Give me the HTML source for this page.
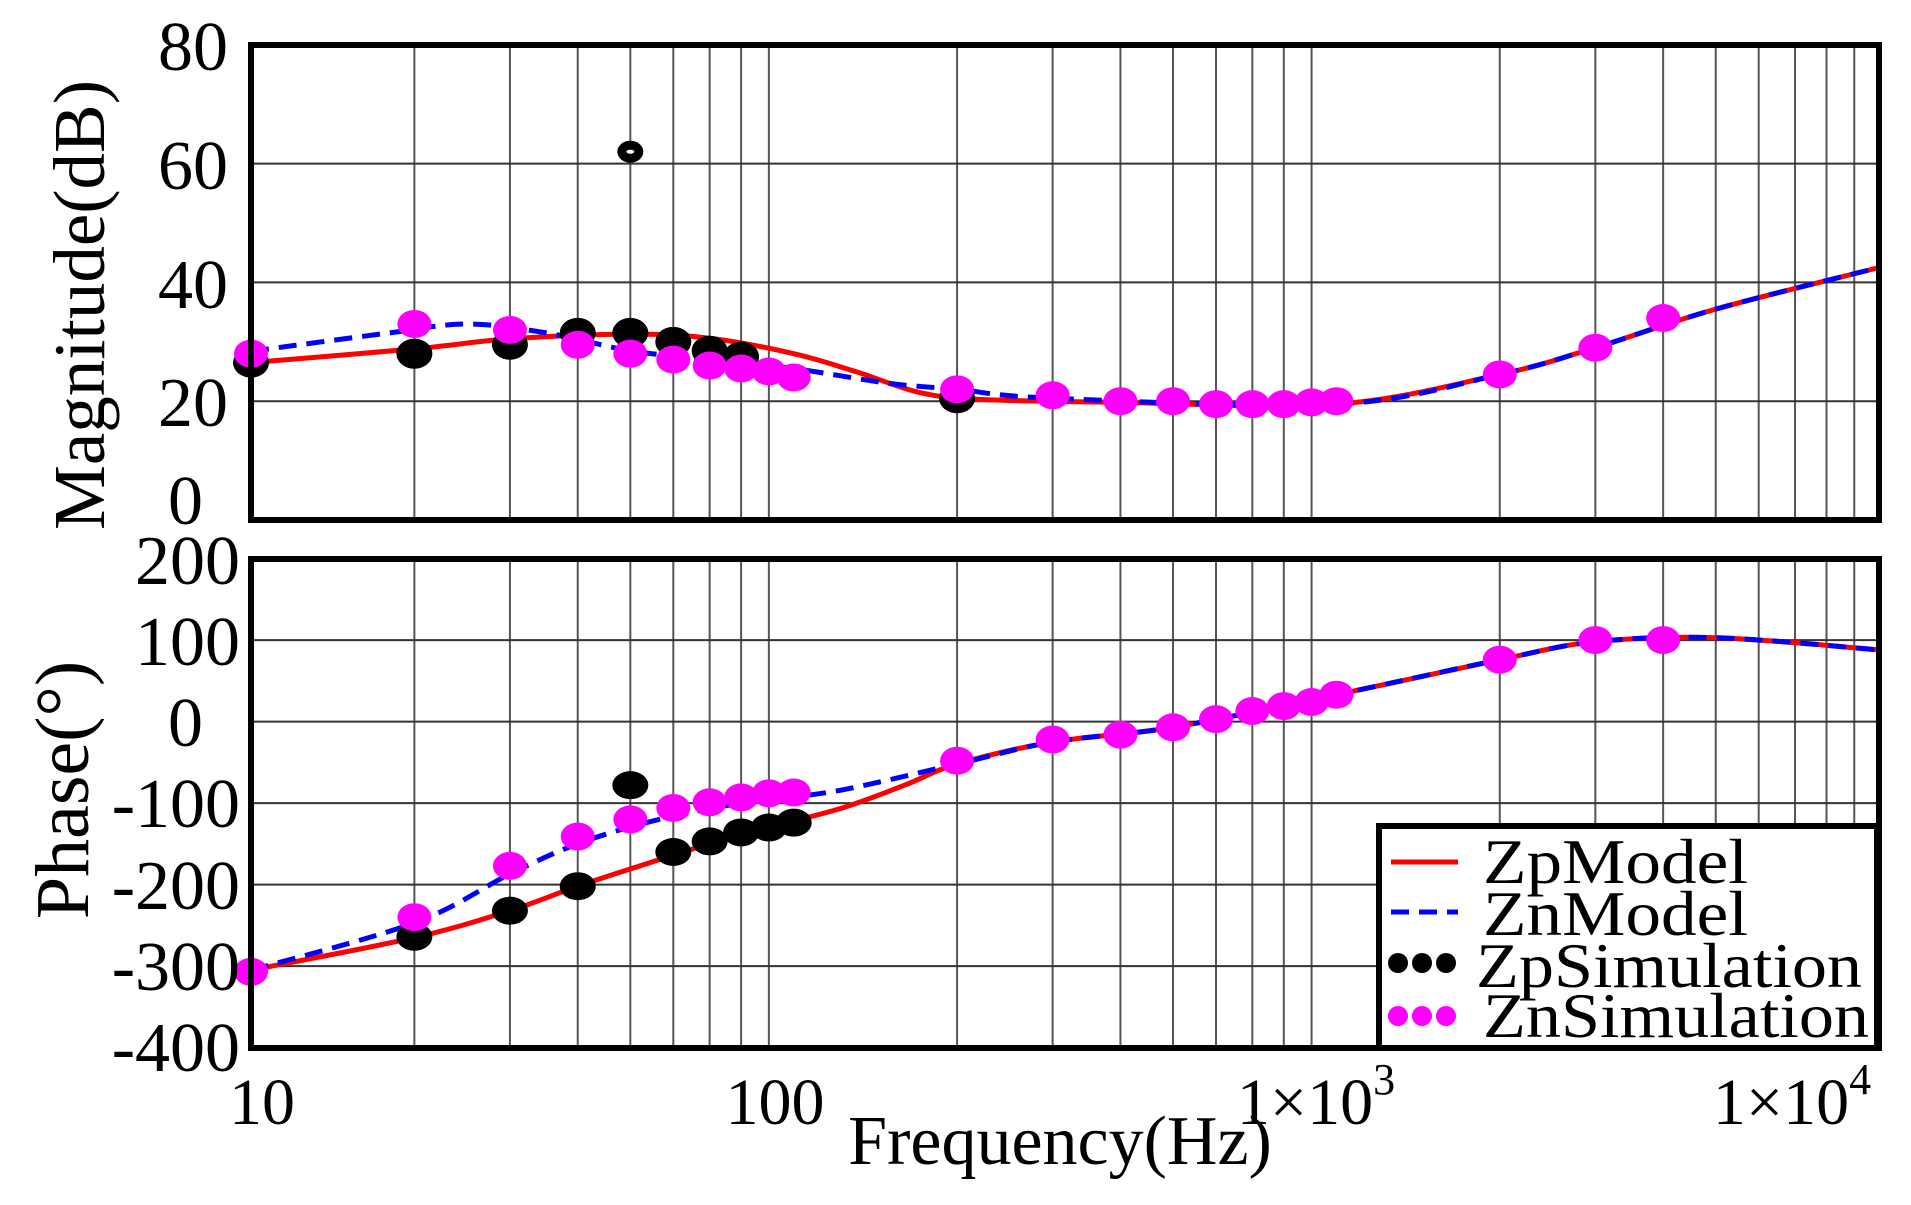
<!DOCTYPE html>
<html><head><meta charset="utf-8"><style>
html,body{margin:0;padding:0;background:#fff;}
svg{display:block;font-family:"Liberation Serif",serif;}
</style></head><body>
<svg id="s" width="1911" height="1205" viewBox="0 0 1911 1205" xmlns="http://www.w3.org/2000/svg">
<g id="grid"></g>
<g id="data"></g>
<rect x="251" y="45" width="1628" height="475" fill="none" stroke="#000" stroke-width="6"/>
<rect x="251" y="559" width="1628" height="489" fill="none" stroke="#000" stroke-width="6"/>
<g font-size="70" text-anchor="end" fill="#000">
<text x="228" y="70">80</text>
<text x="228" y="189">60</text>
<text x="228" y="308">40</text>
<text x="228" y="426">20</text>
<text x="203" y="524">0</text>
<text x="240" y="584">200</text>
<text x="240" y="665">100</text>
<text x="203" y="746">0</text>
<text x="240" y="827">-100</text>
<text x="240" y="909">-200</text>
<text x="240" y="990">-300</text>
<text x="240" y="1071">-400</text>
</g>
<g font-size="66" fill="#000" text-anchor="middle">
<text x="262" y="1124">10</text>
<text x="775" y="1124">100</text>
<text x="1316" y="1124">1×10<tspan font-size="44" dy="-30">3</tspan></text>
<text x="1792" y="1124">1×10<tspan font-size="44" dy="-30">4</tspan></text>
</g>
<text x="1060" y="1164" font-size="70" text-anchor="middle">Frequency(Hz)</text>
<text transform="translate(104,305) rotate(-90)" font-size="73" text-anchor="middle">Magnitude(dB)</text>
<text transform="translate(88,790) rotate(-90)" font-size="76" text-anchor="middle">Phase(°)</text>
<rect x="1379" y="826" width="498" height="222" fill="#fff" stroke="#000" stroke-width="6"/>
<line x1="1391" y1="862" x2="1458" y2="862" stroke="#f00" stroke-width="5"/>
<line x1="1391" y1="912" x2="1458" y2="912" stroke="#00f" stroke-width="5" stroke-dasharray="18,10"/>
<g fill="#000"><circle cx="1398" cy="963" r="10"/><circle cx="1422" cy="963" r="10"/><circle cx="1446" cy="963" r="10"/></g>
<g fill="#f0f"><circle cx="1398" cy="1016" r="10"/><circle cx="1422" cy="1016" r="10"/><circle cx="1446" cy="1016" r="10"/></g>
<g font-size="64" fill="#000">
<text x="1483" y="883" textLength="265" lengthAdjust="spacingAndGlyphs">ZpModel</text>
<text x="1483" y="935" textLength="265" lengthAdjust="spacingAndGlyphs">ZnModel</text>
<text x="1476" y="987" textLength="386" lengthAdjust="spacingAndGlyphs">ZpSimulation</text>
<text x="1483" y="1037" textLength="386" lengthAdjust="spacingAndGlyphs">ZnSimulation</text>
</g>
</svg>
<script>
var NS="http://www.w3.org/2000/svg";
function X(f){return 251+542.7*Math.log10(f/10);}
function YM(v){return 520-v*5.94;}
function YP(v){return 721.6-v*0.815;}
function el(p,t,a){var e=document.createElementNS(NS,t);for(var k in a)e.setAttribute(k,a[k]);p.appendChild(e);return e;}
var g=document.getElementById('grid'),d=document.getElementById('data');
[10,100,1000].forEach(function(dec){for(var i=2;i<=9;i++){var x=X(dec*i);
el(g,'line',{x1:x,y1:45,x2:x,y2:520,stroke:'#555','stroke-width':2});
el(g,'line',{x1:x,y1:559,x2:x,y2:1048,stroke:'#555','stroke-width':2});}});
[20,40,60].forEach(function(v){el(g,'line',{x1:251,y1:YM(v),x2:1879,y2:YM(v),stroke:'#333','stroke-width':2});});
[100,0,-100,-200,-300].forEach(function(v){el(g,'line',{x1:251,y1:YP(v),x2:1879,y2:YP(v),stroke:'#333','stroke-width':2});});
function curve(pts,Y,attrs){
 var P=pts.map(function(p){return [X(p[0]),Y(p[1])];});
 var s='M'+P[0][0].toFixed(1)+','+P[0][1].toFixed(1);
 for(var i=0;i<P.length-1;i++){var p0=P[Math.max(0,i-1)],p1=P[i],p2=P[i+1],p3=P[Math.min(P.length-1,i+2)];
  var c1x=p1[0]+(p2[0]-p0[0])/6,c1y=p1[1]+(p2[1]-p0[1])/6,c2x=p2[0]-(p3[0]-p1[0])/6,c2y=p2[1]-(p3[1]-p1[1])/6;
  s+=' C'+c1x.toFixed(1)+','+c1y.toFixed(1)+' '+c2x.toFixed(1)+','+c2y.toFixed(1)+' '+p2[0].toFixed(1)+','+p2[1].toFixed(1);}
 attrs.d=s;attrs.fill='none';el(d,'path',attrs);}
var magR=[[10,26.5],[20,28.8],[30,30.5],[50,31.3],[70,30.6],[100,28],[130,25],[170,21.5],[220,20.3],[400,19.8],[1000,19.5],[2000,24.5],[3000,29],[5000,35.5],[10000,42.5]];
var magB=[[10,28.4],[18,31.5],[25,33],[35,31.5],[50,28.5],[70,27],[100,25.5],[150,23],[200,22],[300,20.5],[1000,19.5],[2000,24.5],[3000,29],[5000,35.5],[10000,42.5]];
var phR=[[10,-305],[20,-265],[30,-232],[40,-202],[55,-172],[80,-138],[120,-108],[160,-78],[200,-52],[300,-25],[500,-7],[1000,33],[2000,76],[3000,98],[5000,103],[10000,88]];
var phB=[[10,-305],[20,-247],[30,-187],[40,-150],[55,-122],[80,-100],[120,-85],[200,-52],[300,-25],[500,-7],[1000,33],[2000,76],[3000,98],[5000,103],[10000,88]];
curve(magR,YM,{stroke:'#f00','stroke-width':5});
curve(magB,YM,{stroke:'#00f','stroke-width':5,'stroke-dasharray':'18,10'});
curve(phR,YP,{stroke:'#f00','stroke-width':5});
curve(phB,YP,{stroke:'#00f','stroke-width':5,'stroke-dasharray':'18,10'});
function dot(f,y,c,rx,ry){el(d,'ellipse',{cx:X(f),cy:y,rx:rx||17,ry:ry||14,fill:c});}
var bm=[[10,27],[20,28.5],[30,30],[40,32],[50,32],[60,30.5],[70,29],[80,28],[200,21]];
bm.forEach(function(p){dot(p[0],YM(p[1])+3,'#000',18,15);});
dot(50,YM(62),'#000',13,11);el(d,'ellipse',{cx:X(50),cy:YM(62),rx:4,ry:2,fill:'#fff'});
var pm=[[10,28],[20,33],[30,32],[40,29.5],[50,28],[60,27],[70,26],[80,25.5],[90,25],[100,24],[200,22],[300,21],[400,20],[500,20],[600,19.5],[700,19.5],[800,19.5],[900,19.8],[1000,20],[2000,24.5],[3000,29],[4000,34]];
pm.forEach(function(p){dot(p[0],YM(p[1]),'#f0f');});
var bp=[[20,-264],[30,-232],[40,-202],[50,-78],[60,-160],[70,-147],[80,-136],[90,-130],[100,-124]];
bp.forEach(function(p){dot(p[0],YP(p[1]),'#000',18,14);});
var pp=[[10,-307],[20,-240],[30,-177],[40,-141],[50,-120],[60,-106],[70,-99],[80,-93],[90,-88],[100,-87],[200,-48],[300,-22],[400,-16],[500,-7],[600,3],[700,13],[800,19],[900,24],[1000,33],[2000,76],[3000,100],[4000,100]];
pp.forEach(function(p){dot(p[0],YP(p[1]),'#f0f');});
</script>
</body></html>
